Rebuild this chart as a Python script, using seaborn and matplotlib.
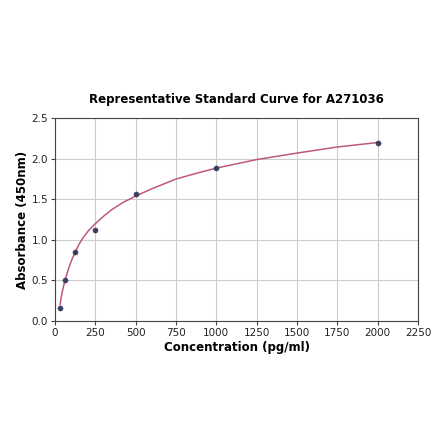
import matplotlib
matplotlib.use("Agg")
import matplotlib.pyplot as plt
import seaborn as sns
import pandas as pd

# standard points
conc = [31.25, 62.5, 125, 250, 500, 1000, 2000]
absorbance = [0.16, 0.50, 0.85, 1.12, 1.57, 1.89, 2.20]

# fitted curve
curve_x = [31.25, 38, 45, 53, 62.5, 75, 90, 105, 125, 150, 175, 210, 250, 300, 350, 420,
           500, 600, 750, 875, 1000, 1250, 1500, 1750, 2000]
curve_y = [0.20, 0.29, 0.36, 0.43, 0.50, 0.59, 0.68, 0.76, 0.85, 0.95, 1.03, 1.12, 1.20,
           1.29, 1.37, 1.46, 1.54, 1.63, 1.75, 1.82, 1.885, 1.99, 2.07, 2.145, 2.20]

pts = pd.DataFrame({"conc": conc, "absorbance": absorbance})
fit = pd.DataFrame({"conc": curve_x, "absorbance": curve_y})

sns.set_style("whitegrid", {"grid.color": "#cccccc", "axes.edgecolor": "#444444",
                            "text.color": "black", "axes.labelcolor": "black",
                            "xtick.color": "#222222", "ytick.color": "#222222"})
plt.rcParams["font.family"] = ["DejaVu Sans"]

fig = plt.figure(figsize=(4.4, 4.41), dpi=100)
ax = fig.add_axes([0.125, 0.272, 0.825, 0.46])

sns.lineplot(x="conc", y="absorbance", data=fit, color="#c0587e", linewidth=1.1, ax=ax)
sns.scatterplot(x="conc", y="absorbance", data=pts, color="#3a3f5e", s=14,
                edgecolor="#3a3f5e", zorder=3, ax=ax)

ax.set_xlim(0, 2250)
ax.set_ylim(0, 2.5)
ax.set_xticks(range(0, 2251, 250))
ax.set_yticks([0.0, 0.5, 1.0, 1.5, 2.0, 2.5])
ax.tick_params(labelsize=7.5, length=3, color="#444444", left=True, bottom=True, pad=2)
for s in ax.spines.values():
    s.set_linewidth(0.8)
ax.set_title("Representative Standard Curve for A271036", fontsize=8.5, fontweight="bold",
             pad=11, color="black")
ax.set_xlabel("Concentration (pg/ml)", fontsize=8.5, fontweight="bold", labelpad=2)
ax.set_ylabel("Absorbance (450nm)", fontsize=8.5, fontweight="bold", labelpad=2)

fig.savefig("out.png", dpi=100)
